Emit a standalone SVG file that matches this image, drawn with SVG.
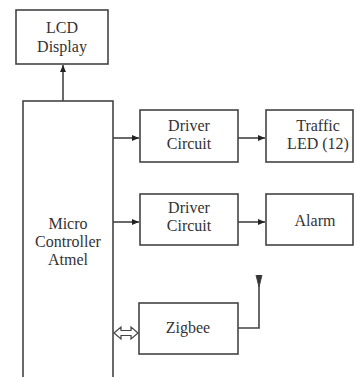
<svg xmlns="http://www.w3.org/2000/svg" width="355" height="377" viewBox="0 0 355 377">
<defs>
<style>
.box{fill:#fff;stroke:#444;stroke-width:1.6}
.ln{fill:none;stroke:#444;stroke-width:1.6}
.t{font-family:'Liberation Serif','Times New Roman',serif;font-size:16px;fill:#333;text-anchor:middle}
</style>
<marker id="ah" markerWidth="8" markerHeight="8" refX="7" refY="4" orient="auto" markerUnits="userSpaceOnUse">
<path d="M0,1 L7,4 L0,7 Z" fill="#222"/>
</marker>
</defs>
<rect width="355" height="377" fill="#fff"/>
<g id="connectors">
<line class="ln" x1="63" y1="101" x2="63" y2="65" marker-end="url(#ah)"/>
<line class="ln" x1="113" y1="138" x2="139" y2="138" marker-end="url(#ah)"/>
<line class="ln" x1="238" y1="138" x2="265" y2="138" marker-end="url(#ah)"/>
<line class="ln" x1="113" y1="222" x2="139" y2="222" marker-end="url(#ah)"/>
<line class="ln" x1="238" y1="222" x2="265" y2="222" marker-end="url(#ah)"/>
<polygon points="114,333 121,327 121,330.5 131,330.5 131,327 138,333 131,339 131,335.5 121,335.5 121,339" fill="#fff" stroke="#444" stroke-width="1.2"/>
<polyline class="ln" points="238,328 259,328 259,276"/>
<path d="M256,275 L259,287 L262,275" fill="#333" stroke="#444" stroke-width="1"/>
</g>
<g id="lcd">
<rect class="box" x="16" y="10" width="92" height="54"/>
<text class="t" x="62" y="33">LCD</text>
<text class="t" x="62" y="52">Display</text>
</g>
<g id="micro">
<rect class="box" x="23" y="101" width="90" height="290"/>
<text class="t" x="68" y="229">Micro</text>
<text class="t" x="68" y="247">Controller</text>
<text class="t" x="68" y="265">Atmel</text>
</g>
<g id="driver1">
<rect class="box" x="140" y="110" width="98" height="52"/>
<text class="t" x="189" y="131">Driver</text>
<text class="t" x="189" y="149">Circuit</text>
</g>
<g id="traffic">
<rect class="box" x="266" y="110" width="87" height="52"/>
<text class="t" x="318" y="131">Traffic</text>
<text class="t" x="318" y="149">LED (12)</text>
</g>
<g id="driver2">
<rect class="box" x="140" y="194" width="98" height="51"/>
<text class="t" x="189" y="213">Driver</text>
<text class="t" x="189" y="231">Circuit</text>
</g>
<g id="alarm">
<rect class="box" x="266" y="194" width="87" height="51"/>
<text class="t" x="315" y="226">Alarm</text>
</g>
<g id="zigbee">
<rect class="box" x="139" y="303" width="99" height="51"/>
<text class="t" x="188" y="333">Zigbee</text>
</g>
</svg>
